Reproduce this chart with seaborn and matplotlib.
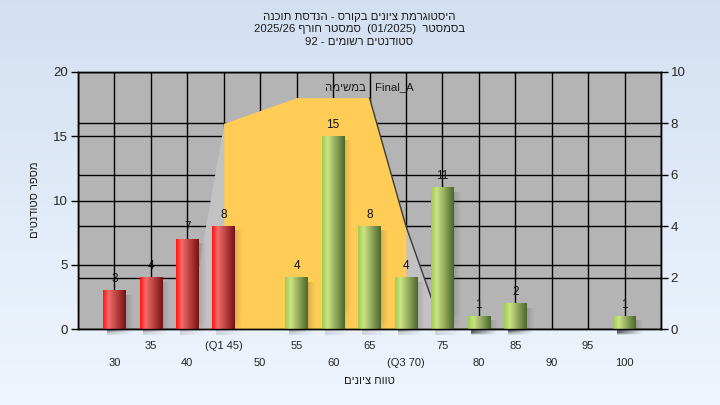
import numpy as np
import pandas as pd
import matplotlib
matplotlib.use("Agg")
import matplotlib.pyplot as plt
import seaborn as sns

# ---------------- data ----------------
categories = [30, 35, 40, 45, 50, 55, 60, 65, 70, 75, 80, 85, 90, 95, 100]
counts = [3, 4, 7, 8, 0, 4, 15, 8, 4, 11, 1, 2, 0, 0, 1]
tick_labels = ["30", "35", "40", "(Q1 45)", "50", "55", "60", "65", "(Q3 70)",
               "75", "80", "85", "90", "95", "100"]
q1 = 45
q3 = 70
# distribution area (right axis, 0..10)
dist_cats = [40, 45, 50, 55, 60, 65, 70, 75]
dist_vals = [0, 8, 8.5, 9, 9, 9, 4, 0]

title_lines = [
    "היסטוגרמת ציונים בקורס - הנדסת תוכנה",
    ("2025/26", "סמסטר חורף", "(01/2025)", "בסמסטר"),
    ("92 -", "סטודנטים רשומים"),
]
task_label = ("במשימה", ": Final_A")
xlabel = "טווח ציונים"
ylabel = "מספר סטודנטים"


def rv(s):
    """visual order for a right-to-left run"""
    return s[::-1]


sns.set_style("white")
plt.rcParams['font.family'] = ['Liberation Sans', 'DejaVu Sans']

W, H = 720, 405
fig = plt.figure(figsize=(W / 100, H / 100), dpi=100)

# figure background gradient
bg = fig.add_axes([0, 0, 1, 1], zorder=-10)
top_c = np.array([0.827, 0.878, 0.949])
bot_c = np.array([0.937, 0.961, 0.992])
grad = np.linspace(0, 1, 256)[:, None, None] * (bot_c - top_c) + top_c
bg.imshow(np.repeat(grad, 2, axis=1), aspect='auto', extent=[0, 1, 0, 1])
bg.axis('off')

L, R, T, B = 78, 661, 72, 329
ax = fig.add_axes([L / W, 1 - B / H, (R - L) / W, (B - T) / H])
ax.set_facecolor('#b4b4b4')

df = pd.DataFrame({"cat": [str(c) for c in categories], "n": counts})
sns.barplot(data=df, x="cat", y="n", ax=ax, width=0.62, color="red",
            order=[str(c) for c in categories], zorder=3)

ymax_left, ymax_right = 20, 10
scale = ymax_left / ymax_right

# distribution area drawn in left-axis units beneath the bars
pos = {c: i for i, c in enumerate(categories)}
dx = np.array([pos[c] for c in dist_cats], dtype=float)
dv = np.array(dist_vals) * scale
ax.fill_between(dx, 0, dv, color='#c2c2c2', lw=0, zorder=1)
mask = (np.array(dist_cats) >= q1) & (np.array(dist_cats) <= q3)
ax.fill_between(dx, 0, dv, where=mask, color='#ffcc55', lw=0, zorder=1.1)
edge = np.array(dist_cats) >= 65
ax.plot(dx[edge], dv[edge], color='#3a3a3a', lw=1.0, zorder=1.2)

# gradient cylinders
def cyl(c_left, c_hi, c_dark):
    xs = np.linspace(0, 1, 64)
    out = np.zeros((1, 64, 3))
    for k, t in enumerate(xs):
        if t < 0.25:
            f = t / 0.25
            col = np.array(c_left) * (1 - f) + np.array(c_hi) * f
        else:
            f = (t - 0.25) / 0.75
            col = np.array(c_hi) * (1 - f) + np.array(c_dark) * f
        out[0, k] = col
    return out

red_g = cyl((1.0, 0.08, 0.08), (0.95, 0.42, 0.42), (0.47, 0.07, 0.07))
green_g = cyl((0.62, 0.80, 0.30), (0.80, 0.89, 0.52), (0.30, 0.40, 0.17))

shadow = np.zeros((16, 32, 4))
for j in range(32):
    a = 0.7 * (1 - j / 31) ** 1.1
    shadow[:, j, :3] = 0.12
    shadow[:, j, 3] = a
shadow[-3:, :, 3] *= np.linspace(1, 0.2, 3)[:, None]

for i, p in enumerate(ax.patches):
    h = p.get_height()
    x0 = p.get_x()
    w = p.get_width()
    p.set_visible(False)
    if h <= 0:
        continue
    g = red_g if categories[i] <= q1 else green_g
    ax.imshow(g, extent=[x0, x0 + w, 0, h], aspect='auto', zorder=3,
              interpolation='bilinear')
    sh = ax.imshow(shadow, extent=[x0 + 0.1, x0 + w + 0.2, -0.45, h - 0.35],
                   aspect='auto', zorder=2.5, interpolation='bilinear')
    sh.set_clip_on(False)
    ax.annotate(str(counts[i]), (x0 + w / 2, h), xytext=(0, 4),
                textcoords='offset points', ha='center', va='bottom',
                fontsize=8.5, color='#111111', zorder=5)

ax.set_xlim(-1, len(categories))
ax.set_ylim(0, ymax_left)
ax.set_yticks([0, 5, 10, 15, 20])
ax.set_yticks([v * scale for v in [2, 4, 6, 8]], minor=True)
ax.set_xticks(range(len(categories)))
ax.set_xticks([-1, len(categories)], minor=True)
labs = [t if i % 2 == 1 else "\n" + t for i, t in enumerate(tick_labels)]
ax.set_xticklabels(labs)
for t in ax.get_xticklabels():
    t.set_linespacing(1.95)
ax.set_axisbelow(True)
ax.grid(True, which='both', color='black', lw=1.0, zorder=0.5)
ax.tick_params(axis='x', which='major', length=4, width=1, color='black',
               labelsize=8, pad=4.5, direction='out')
ax.tick_params(axis='x', which='minor', length=0)
ax.tick_params(axis='y', which='major', length=5, width=1, color='black',
               labelsize=9.5, pad=2, direction='out', left=True)
ax.tick_params(axis='y', which='minor', length=0)
ax.set_xlabel("")
ax.set_ylabel("")
for s in ax.spines.values():
    s.set_color('black')
    s.set_linewidth(1.0)

ax2 = ax.twinx()
ax2.set_ylim(0, ymax_right)
ax2.set_yticks([0, 2, 4, 6, 8, 10])
ax2.tick_params(axis='y', length=5, width=1, color='black', labelsize=9.5,
                pad=2, direction='out')
ax2.grid(False)
for s in ax2.spines.values():
    s.set_color('black')
    s.set_linewidth(1.0)

# texts
tc = '#1a1a1a'
tfs = 8.2
fig.text(359 / W, 1 - 17 / H, rv(title_lines[0]), ha='center', va='center',
         fontsize=tfs, color=tc)
l2 = title_lines[1]
fig.text(359 / W, 1 - 29.5 / H,
         l2[0] + " " + rv(l2[1]) + "  " + l2[2] + "  " + rv(l2[3]),
         ha='center', va='center', fontsize=tfs, color=tc)
l3 = title_lines[2]
fig.text(359 / W, 1 - 42 / H, l3[0] + " " + rv(l3[1]), ha='center',
         va='center', fontsize=tfs, color=tc)
ax.text(0.5, 1 - 15 / (B - T), rv(task_label[0]) + " " + task_label[1],
        transform=ax.transAxes, ha='center', va='center', fontsize=8.2,
        color=tc, zorder=6)
fig.text(369 / W, 1 - 381 / H, rv(xlabel), ha='center', va='center',
         fontsize=8, color=tc)
fig.text(35 / W, 1 - 200 / H, rv(ylabel), ha='center', va='center',
         rotation=90, fontsize=8, color=tc)

fig.savefig("out.png", dpi=100)
